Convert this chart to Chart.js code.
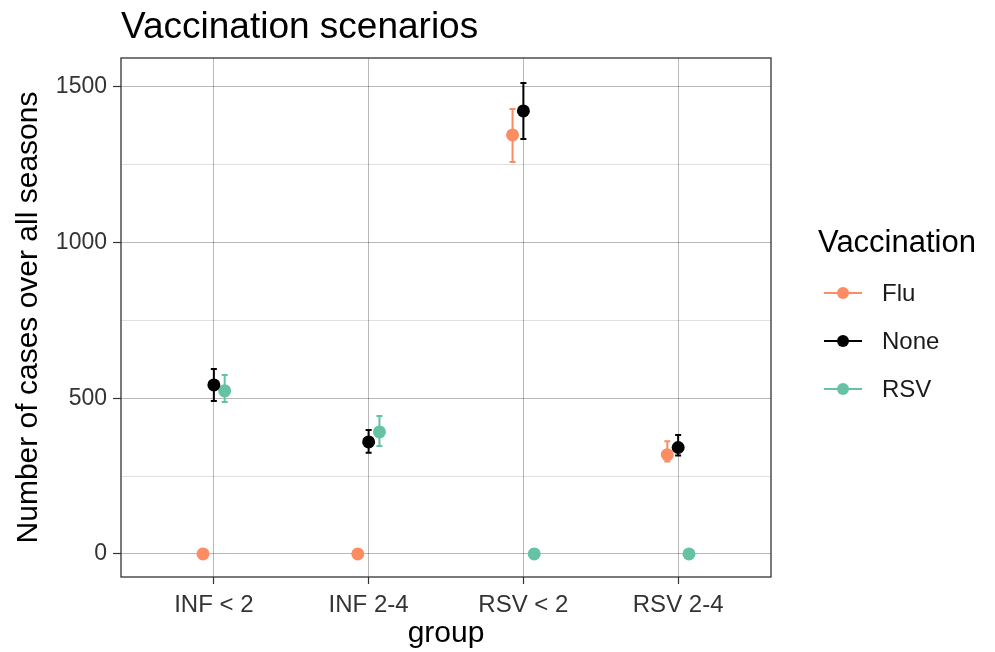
<!DOCTYPE html>
<html lang="en">
<head>
  <meta charset="UTF-8" />
  <title>Vaccination scenarios</title>
  <script src="https://cdn.jsdelivr.net/npm/chart.js"></script>
  <style>
    body { margin: 0; background: #ffffff; }
    #wrap { width: 995px; height: 652px; }
  </style>
</head>
<body>
  <div id="wrap"><canvas id="vaxChart"></canvas></div>

  <script>
    // --- data ---
    const groups = ["INF < 2", "INF 2-4", "RSV < 2", "RSV 2-4"];
    const yTicks = [0, 250, 500, 750, 1000, 1250, 1500];
    const yLabelled = [0, 500, 1000, 1500];

    const fluMean = [0, 0, 1346, 319];
    const fluLow  = [null, null, 1259, 297];
    const fluHigh = [null, null, 1429, 362];

    const noneMean = [543, 360, 1423, 342];
    const noneLow  = [491, 325, 1333, 316];
    const noneHigh = [594, 398, 1513, 382];

    const rsvMean = [524, 392, 0, 0];
    const rsvLow  = [488, 347, null, null];
    const rsvHigh = [575, 443, null, null];

    const seriesNames = ["Flu", "None", "RSV"];
    const seriesColors = ["#FC8D62", "#000000", "#66C2A5"];
    const dodge = [-0.07, 0, 0.07];

    const means = [fluMean, noneMean, rsvMean];
    const lows = [fluLow, noneLow, rsvLow];
    const highs = [fluHigh, noneHigh, rsvHigh];

    const FONT = "'Liberation Sans', Arial, sans-serif";

    const datasets = seriesNames.map((name, s) => ({
      label: name,
      data: means[s].map((v, i) => ({ x: i + 1 + dodge[s], y: v, lo: lows[s][i], hi: highs[s][i] })),
      backgroundColor: seriesColors[s],
      borderColor: seriesColors[s],
      pointRadius: 6.5,
      pointHoverRadius: 6.5,
      borderWidth: 0,
      showLine: false
    }));

    // error bars, drawn under the points
    const errorBars = {
      id: "errorBars",
      beforeDatasetsDraw(chart) {
        const ctx = chart.ctx;
        const xs = chart.scales.x, ys = chart.scales.y;
        ctx.save();
        chart.data.datasets.forEach(ds => {
          ctx.strokeStyle = ds.borderColor;
          ctx.lineWidth = 2;
          ds.data.forEach(p => {
            if (p.lo == null) return;
            const px = xs.getPixelForValue(p.x);
            const y1 = ys.getPixelForValue(p.lo);
            const y2 = ys.getPixelForValue(p.hi);
            ctx.beginPath();
            ctx.moveTo(px, y1); ctx.lineTo(px, y2);
            ctx.moveTo(px - 3, y1); ctx.lineTo(px + 3, y1);
            ctx.moveTo(px - 3, y2); ctx.lineTo(px + 3, y2);
            ctx.stroke();
          });
        });
        ctx.restore();
      }
    };

    // panel border, title and legend in ggplot style
    const decorations = {
      id: "decorations",
      afterDraw(chart) {
        const ctx = chart.ctx;
        const a = chart.chartArea;
        ctx.save();
        ctx.strokeStyle = "#333333";
        ctx.lineWidth = 1.3;
        ctx.strokeRect(a.left, a.top, a.right - a.left, a.bottom - a.top);

        ctx.fillStyle = "#000000";
        ctx.textBaseline = "alphabetic";
        ctx.textAlign = "left";
        ctx.font = "37px " + FONT;
        ctx.fillText("Vaccination scenarios", a.left, 38);

        ctx.font = "31px " + FONT;
        ctx.fillText("Vaccination", 818, 252);

        ctx.font = "24px " + FONT;
        ctx.textBaseline = "middle";
        seriesNames.forEach((name, s) => {
          const y = 293 + s * 48;
          ctx.strokeStyle = seriesColors[s];
          ctx.lineWidth = 2.2;
          ctx.beginPath();
          ctx.moveTo(824, y); ctx.lineTo(862, y);
          ctx.stroke();
          ctx.fillStyle = seriesColors[s];
          ctx.beginPath();
          ctx.arc(843, y, 6, 0, Math.PI * 2);
          ctx.fill();
          ctx.fillStyle = "#1a1a1a";
          ctx.fillText(name, 882, y + 1);
        });
        ctx.restore();
      }
    };

    new Chart(document.getElementById("vaxChart"), {
      type: "scatter",
      data: { datasets },
      plugins: [errorBars, decorations],
      options: {
        responsive: true,
        maintainAspectRatio: false,
        animation: false,
        layout: { padding: { left: 0, right: 224, top: 58, bottom: 0 } },
        plugins: {
          legend: { display: false },
          title: { display: false },
          tooltip: { enabled: false }
        },
        scales: {
          x: {
            type: "linear",
            min: 0.4,
            max: 4.6,
            afterBuildTicks: scale => { scale.ticks = groups.map((g, i) => ({ value: i + 1 })); },
            afterFit: scale => { scale.height = 75; },
            border: { display: false },
            grid: {
              color: "rgba(0,0,0,0.28)",
              lineWidth: 1,
              tickLength: 7,
              tickColor: "#333333",
              tickWidth: 1.2
            },
            ticks: {
              autoSkip: false,
              maxRotation: 0,
              padding: 7,
              color: "#333333",
              font: { family: FONT, size: 24 },
              callback: v => groups[Math.round(v) - 1]
            },
            title: {
              display: true,
              text: "group",
              color: "#000000",
              font: { family: FONT, size: 30 },
              padding: { top: 0, bottom: 0 }
            }
          },
          y: {
            min: -74,
            max: 1593,
            afterBuildTicks: scale => { scale.ticks = yTicks.map(v => ({ value: v })); },
            afterFit: scale => { scale.width = 121; },
            border: { display: false },
            grid: {
              color: ctx => yLabelled.includes(ctx.tick.value) ? "rgba(0,0,0,0.28)" : "rgba(0,0,0,0.12)",
              lineWidth: 1,
              tickLength: 8,
              tickColor: ctx => yLabelled.includes(ctx.tick.value) ? "#333333" : "rgba(0,0,0,0)",
              tickWidth: 1.2
            },
            ticks: {
              autoSkip: false,
              padding: 6,
              color: "#333333",
              font: { family: FONT, size: 23 },
              callback: v => yLabelled.includes(v) ? String(v) : ""
            },
            title: {
              display: true,
              text: "Number of cases over all seasons",
              color: "#000000",
              font: { family: FONT, size: 30 },
              padding: { top: 11, bottom: 0 }
            }
          }
        }
      }
    });
  </script>
</body>
</html>
